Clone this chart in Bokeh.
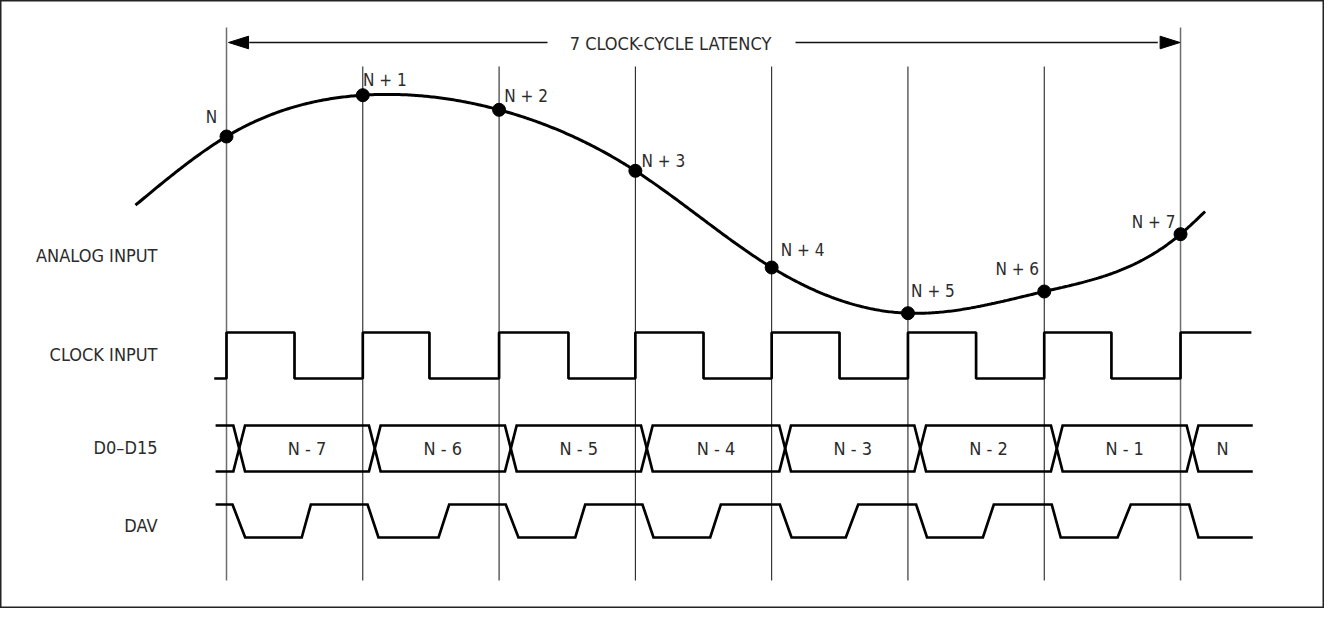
import numpy as np
from bokeh.plotting import figure
from bokeh.models import Range1d
from bokeh.core.properties import value
from bokeh.embed import file_html
from bokeh.resources import INLINE

# ---------------- data (time in clock periods) ----------------
SAMPLE_LABELS = ["N", "N + 1", "N + 2", "N + 3", "N + 4", "N + 5", "N + 6", "N + 7"]
SAMPLE_T = [0, 1, 2, 3, 4, 5, 6, 7]
SAMPLE_V = [186.0, 227.3, 212.7, 151.7, 55.0, 9.3, 31.0, 88.3]          # analog level (a.u.)

CURVE_T = [-0.668, 0, 1, 2, 3, 4, 5, 6, 7, 7.18]
CURVE_V = [117.3, 186.0, 227.3, 212.7, 151.7, 55.0, 9.3, 31.0, 88.3, 111.0]

CLOCK_T = [-0.09, 0.0, 0.499, 1.0, 1.489, 2.0, 2.509, 3.0, 3.5, 4.0, 4.498, 5.0,
           5.5, 6.0, 6.493, 7.0, 7.52]
CLOCK_LEVEL = [0, 1, 0, 1, 0, 1, 0, 1, 0, 1, 0, 1, 0, 1, 0, 1, 1]

BUS_START, BUS_END = -0.08, 7.53
BUS_CROSS = [0.093, 1.088, 2.086, 3.084, 4.099, 5.09, 6.092, 7.088]
BUS_LABELS = ["N - 7", "N - 6", "N - 5", "N - 4", "N - 3", "N - 2", "N - 1", "N"]

DAV_START, DAV_END = -0.08, 7.53
DAV_FALL_START = [0.044, 1.035, 2.049, 3.052, 4.060, 5.06, 6.055, 7.063]
DAV_LOW_REACHED = [0.137, 1.115, 2.142, 3.133, 4.146, 5.14, 6.121, 7.132]
DAV_RISE_START = [0.552, 1.556, 2.559, 3.549, 4.544, 5.55, 6.538]
DAV_HIGH_REACHED = [0.619, 1.634, 2.632, 3.627, 4.635, 5.63, 6.635]

ROW_LABELS = ["ANALOG INPUT", "CLOCK INPUT", "D0\u2013D15", "DAV"]
TITLE = "7 CLOCK-CYCLE LATENCY"
LATENCY_CYCLES = 7

# ---------------- layout ----------------
W, H = 1324, 608
T0_PX, PERIOD_PX = 226.0, 136.29          # frame px of t=0, px per clock period
def tx(px):                               # frame pixel -> time units (layout only)
    return (px - T0_PX) / PERIOD_PX

FONT = value("'DejaVu Sans Condensed', 'Roboto', sans-serif")
TXT = "#2b2b2b"

p = figure(width=W, height=H, output_backend="svg", toolbar_location=None,
           x_range=Range1d(tx(0), tx(W)), y_range=Range1d(H, 0),
           x_axis_location=None, y_axis_location=None, min_border=0)
p.xgrid.visible = False
p.ygrid.visible = False
p.outline_line_color = "#222222"
p.outline_line_width = 2
p.background_fill_color = "white"

# row geometry (frame px, y downward)
AN_BASE = 322.0
CLK_LOW, CLK_HIGH = 378.0, 332.0
BUS_TOP, BUS_BOT = 425.0, 471.0
DAV_HIGH, DAV_LOW = 504.0, 537.0
LW = 2.7

# vertical clock lines
for k in range(LATENCY_CYCLES + 1):
    outer = k in (0, LATENCY_CYCLES)
    p.line([k, k], [27 if outer else 66, 580],
           line_color="#6e6e6e" if outer else "#111111",
           line_width=1.5 if outer else 1.0)

# latency arrow
ARROW_Y = 42
head_len = 20 / PERIOD_PX
p.line([head_len + 0.02, tx(547)], [ARROW_Y, ARROW_Y], line_color="#111111", line_width=1.6)
p.line([tx(795), LATENCY_CYCLES - head_len - 0.02], [ARROW_Y, ARROW_Y], line_color="#111111", line_width=1.6)
p.patches([[0.015, head_len + 0.015, head_len + 0.015],
           [LATENCY_CYCLES - 0.003, LATENCY_CYCLES - head_len - 0.003, LATENCY_CYCLES - head_len - 0.003]],
          [[ARROW_Y, ARROW_Y - 6.3, ARROW_Y + 6.3], [ARROW_Y, ARROW_Y - 6.3, ARROW_Y + 6.3]],
          fill_color="black", line_color="black")
p.text([tx(670)], [ARROW_Y + 1], text=[TITLE], text_font=FONT, text_font_size="18px",
       text_color=TXT, text_align="center", text_baseline="middle")

# analog curve: natural cubic spline through the read points
def natural_spline(xs, ys, xq):
    xs = np.asarray(xs, float); ys = np.asarray(ys, float)
    n = len(xs); h = np.diff(xs)
    A = np.zeros((n, n)); b = np.zeros(n)
    A[0, 0] = A[-1, -1] = 1
    for i in range(1, n - 1):
        A[i, i - 1] = h[i - 1]; A[i, i] = 2 * (h[i - 1] + h[i]); A[i, i + 1] = h[i]
        b[i] = 6 * ((ys[i + 1] - ys[i]) / h[i] - (ys[i] - ys[i - 1]) / h[i - 1])
    M = np.linalg.solve(A, b)
    idx = np.clip(np.searchsorted(xs, xq) - 1, 0, n - 2)
    x0, x1 = xs[idx], xs[idx + 1]; hh = x1 - x0
    a = (x1 - xq) / hh; c = (xq - x0) / hh
    return (a * ys[idx] + c * ys[idx + 1]
            + ((a ** 3 - a) * M[idx] + (c ** 3 - c) * M[idx + 1]) * hh ** 2 / 6)

tq = np.linspace(CURVE_T[0], CURVE_T[-1], 600)
vq = natural_spline(CURVE_T, CURVE_V, tq)
p.line(tq, AN_BASE - vq, line_color="black", line_width=3)
p.scatter(SAMPLE_T, [AN_BASE - v for v in SAMPLE_V], size=13, color="black")
dx = [-15, 22, 27, 28, 31, 25, -27, -27]
dy = [-20, -15, -14, -10, -18, -22, -23, -12]
p.text(SAMPLE_T, [AN_BASE - v for v in SAMPLE_V], text=SAMPLE_LABELS,
       x_offset=dx, y_offset=dy, text_font=FONT, text_font_size="17px",
       text_color=TXT, text_align="center", text_baseline="middle")

# clock
p.step(CLOCK_T, [CLK_LOW + (CLK_HIGH - CLK_LOW) * l for l in CLOCK_LEVEL], mode="after",
       line_color="black", line_width=LW)

# data bus (two zig-zag lines form the eyes)
hw = 0.043
line_a_x, line_a_y = [BUS_START], [BUS_TOP]
line_b_x, line_b_y = [BUS_START], [BUS_BOT]
top_a = True
for c in BUS_CROSS:
    ya_before = BUS_TOP if top_a else BUS_BOT
    yb_before = BUS_BOT if top_a else BUS_TOP
    line_a_x += [c - hw, c + hw]; line_a_y += [ya_before, yb_before]
    line_b_x += [c - hw, c + hw]; line_b_y += [yb_before, ya_before]
    top_a = not top_a
line_a_x.append(BUS_END); line_a_y.append(line_a_y[-1])
line_b_x.append(BUS_END); line_b_y.append(line_b_y[-1])
p.multi_line([line_a_x, line_b_x], [line_a_y, line_b_y], line_color="black", line_width=LW,
             line_join="miter")
bounds = BUS_CROSS + [BUS_END]
bus_mid = [(bounds[i] + bounds[i + 1]) / 2 for i in range(len(BUS_LABELS))]
p.text(bus_mid, [(BUS_TOP + BUS_BOT) / 2] * len(bus_mid), text=BUS_LABELS,
       text_font=FONT, text_font_size="18px", text_color=TXT,
       text_align="center", text_baseline="middle")

# DAV
dav_x, dav_y = [DAV_START], [DAV_HIGH]
for i in range(len(DAV_FALL_START)):
    dav_x += [DAV_FALL_START[i], DAV_LOW_REACHED[i]]; dav_y += [DAV_HIGH, DAV_LOW]
    if i < len(DAV_RISE_START):
        dav_x += [DAV_RISE_START[i], DAV_HIGH_REACHED[i]]; dav_y += [DAV_LOW, DAV_HIGH]
dav_x.append(DAV_END); dav_y.append(DAV_LOW)
p.line(dav_x, dav_y, line_color="black", line_width=LW, line_join="miter")

# row labels
row_y = [255, 354, 447, 525]
p.text([tx(157)] * 4, row_y, text=ROW_LABELS, text_font=FONT, text_font_size="18px",
       text_color=TXT, text_align="right", text_baseline="middle")

open("out.html", "w").write(file_html(p, INLINE))
